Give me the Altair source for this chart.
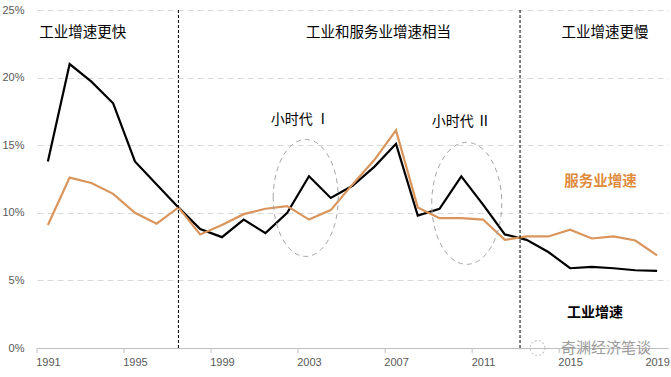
import altair as alt
import pandas as pd

# ---- data ----
years = list(range(1991, 2020))
industry = [13.8, 21.0, 19.7, 18.1, 13.8, 12.1, 10.4, 8.8, 8.2, 9.5, 8.5, 10.0, 12.7, 11.1,
            12.0, 13.4, 15.1, 9.8, 10.3, 12.7, 10.6, 8.4, 8.0, 7.1, 5.9, 6.0, 5.9, 5.75, 5.7]
services = [9.1, 12.6, 12.2, 11.4, 10.0, 9.2, 10.4, 8.4, 9.1, 9.9, 10.3, 10.5, 9.5, 10.2,
            12.1, 13.9, 16.1, 10.4, 9.6, 9.6, 9.5, 8.0, 8.25, 8.25, 8.75, 8.1, 8.25, 7.95, 6.85]
x_labels = [1991, 1995, 1999, 2003, 2007, 2011, 2015, 2019]
y_ticks = [0, 5, 10, 15, 20, 25]
tick_marks = [1990.5, 1994.5, 1998.5, 2002.5, 2006.5, 2010.5, 2014.5, 2018.5]
separators = [1997, 2012.7]

period_texts = ["工业增速更快", "工业和服务业增速相当", "工业增速更慢"]
period_x = [1992.6, 2006.2, 2016.6]
period_y = [23.3, 23.3, 23.3]

era_texts = ["小时代 Ⅰ", "小时代 Ⅱ"]
era_x = [2002.6, 2010.0]
era_y = [16.9, 16.7]

ellipse_x = [2002.85, 2010.25]
ellipse_y = [11.1, 10.7]

ORANGE = "#D9955B"
ORANGE_TXT = "#E08A3C"
FONT_CJK = "Noto Sans CJK SC"
FONT_AX = "Liberation Sans Narrow, Liberation Sans, Arial, sans-serif"

df = pd.DataFrame({"year": years, "industry": industry, "services": services})

xs = alt.Scale(domain=[1990.5, 2019.5], nice=False, zero=False)
ys = alt.Scale(domain=[0, 25], nice=False)

base = alt.Chart(df)

x_enc = alt.X("year:Q", scale=xs,
              axis=alt.Axis(values=x_labels, format="d", title=None, grid=False, ticks=False,
                            domainColor="#bfbfbf", domainWidth=1, labelColor="#595959",
                            labelFontSize=11, labelFont=FONT_AX, labelPadding=8,
                            labelFlush=False))
y_axis = alt.Axis(values=y_ticks, labelExpr="datum.value + '%'", title=None, domain=False,
                  ticks=False, grid=True, gridColor="#d9d9d9", gridDash=[6, 4], gridWidth=1,
                  labelColor="#595959", labelFontSize=11, labelFont=FONT_AX, labelPadding=13)

ind_line = base.mark_line(color="#000000", strokeWidth=2.2).encode(
    x=x_enc, y=alt.Y("industry:Q", scale=ys, axis=y_axis))
srv_line = base.mark_line(color=ORANGE, strokeWidth=2.2).encode(
    x=alt.X("year:Q", scale=xs), y=alt.Y("services:Q", scale=ys))

ticks_df = pd.DataFrame({"t": tick_marks})
tick_rules = alt.Chart(ticks_df).mark_rule(color="#bfbfbf", strokeWidth=1).encode(
    x=alt.X("t:Q", scale=xs), y=alt.value(338), y2=alt.value(343))

sep_df = pd.DataFrame({"s": separators})
sep_rules = alt.Chart(sep_df).mark_rule(color="#000000", strokeWidth=1, strokeDash=[3, 2]).encode(
    x=alt.X("s:Q", scale=xs))

period_df = pd.DataFrame({"t": period_texts, "x": period_x, "y": period_y})
period_txt = alt.Chart(period_df).mark_text(font=FONT_CJK, fontSize=14.5, color="#000000",
                                            align="center", baseline="middle").encode(
    x=alt.X("x:Q", scale=xs), y=alt.Y("y:Q", scale=ys), text="t:N")

era_df = pd.DataFrame({"t": era_texts, "x": era_x, "y": era_y})
era_txt = alt.Chart(era_df).mark_text(font=FONT_CJK, fontSize=14, color="#000000",
                                      align="center", baseline="middle").encode(
    x=alt.X("x:Q", scale=xs), y=alt.Y("y:Q", scale=ys), text="t:N")

ell1 = alt.Chart(pd.DataFrame({"x": [ellipse_x[0]], "y": [ellipse_y[0]]})).mark_point(
    shape="M -0.556 0 A 0.556 1 0 1 1 0.556 0 A 0.556 1 0 1 1 -0.556 0 Z",
    size=13689, filled=False, stroke="#a6a6a6", strokeWidth=1, strokeDash=[5, 4], opacity=1
).encode(x=alt.X("x:Q", scale=xs), y=alt.Y("y:Q", scale=ys))
ell2 = alt.Chart(pd.DataFrame({"x": [ellipse_x[1]], "y": [ellipse_y[1]]})).mark_point(
    shape="M -0.574 0 A 0.574 1 0 1 1 0.574 0 A 0.574 1 0 1 1 -0.574 0 Z",
    size=14884, filled=False, stroke="#a6a6a6", strokeWidth=1, strokeDash=[5, 4], opacity=1
).encode(x=alt.X("x:Q", scale=xs), y=alt.Y("y:Q", scale=ys))

srv_lab = alt.Chart(pd.DataFrame({"t": ["服务业增速"], "x": [2016.4], "y": [12.3]})).mark_text(
    font=FONT_CJK, fontSize=14.5, fontWeight="bold", color=ORANGE_TXT, align="center",
    baseline="middle").encode(x=alt.X("x:Q", scale=xs), y=alt.Y("y:Q", scale=ys), text="t:N")
ind_lab = alt.Chart(pd.DataFrame({"t": ["工业增速"], "x": [2016.15], "y": [2.6]})).mark_text(
    font=FONT_CJK, fontSize=14, fontWeight="bold", color="#000000", align="center",
    baseline="middle").encode(x=alt.X("x:Q", scale=xs), y=alt.Y("y:Q", scale=ys), text="t:N")

wm = alt.Chart(pd.DataFrame({"t": ["奇渊经济笔谈"], "x": [2016.65], "y": [0.0]})).mark_text(
    font=FONT_CJK, fontSize=15, color="#9a9a9a", align="center", baseline="middle").encode(
    x=alt.X("x:Q", scale=xs), y=alt.Y("y:Q", scale=ys), text="t:N")
wm_icon = alt.Chart(pd.DataFrame({"x": [2013.5], "y": [0.0]})).mark_point(
    shape="circle", size=220, filled=False, stroke="#b0b0b0", strokeWidth=1.2,
    strokeDash=[2, 2]).encode(x=alt.X("x:Q", scale=xs), y=alt.Y("y:Q", scale=ys))

chart = alt.layer(
    ind_line, srv_line, tick_rules, sep_rules, ell1, ell2,
    period_txt, era_txt, srv_lab, ind_lab, wm_icon, wm
).properties(
    width=631, height=338,
    autosize=alt.AutoSizeParams(type="none"),
    padding={"left": 37, "top": 10, "right": 3, "bottom": 29},
    background="#ffffff",
).configure_view(stroke=None)

chart.save("out.html", embed_options={"renderer": "svg", "actions": False})
